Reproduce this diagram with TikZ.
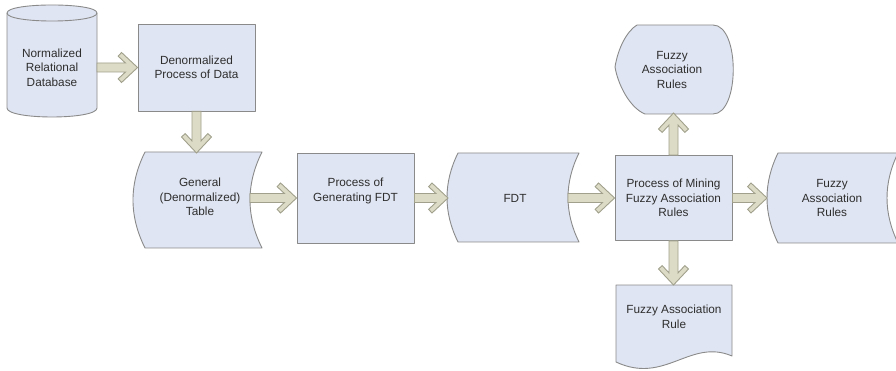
\documentclass[tikz,border=0pt]{standalone}
\usepackage{fontspec}
\setmainfont{Liberation Sans}
\usetikzlibrary{calc}
\definecolor{shapefill}{HTML}{DFE5F2}
\definecolor{shapeline}{HTML}{8A8A8A}
\definecolor{arrfill}{HTML}{DCDCC6}
\definecolor{arrline}{HTML}{A0A08C}
\definecolor{txt}{HTML}{2E2E2E}
\tikzset{
 shapesty/.style={fill=shapefill, draw=shapeline, line width=0.9pt, line join=round},
 txtsty/.style={font=\fontsize{11.8}{14.5}\selectfont, text=txt, align=center, inner sep=0pt},
 procbox/.style={shapesty, txtsty},
 arrowsty/.style={fill=arrfill, draw=arrline, line width=0.9pt, line join=miter},
}
\newcommand\blockarrow[2]{%
 \path (#1); \pgfgetlastxy{\bax}{\bay}%
 \path (#2); \pgfgetlastxy{\bbx}{\bby}%
 \pgfmathsetmacro\bang{atan2((\bby)-(\bay),(\bbx)-(\bax))}%
 \pgfmathsetmacro\blen{veclen((\bbx)-(\bax),(\bby)-(\bay))}%
 \begin{scope}[shift={(#2)}, rotate=\bang]
  \path[arrowsty] (-\blen pt,4.5pt) -- (-12.1pt,4.5pt) -- (-19.4pt,11.35pt) -- (-16pt,15pt) -- (0pt,0pt) -- (-16pt,-15pt) -- (-19.4pt,-11.35pt) -- (-12.1pt,-4.5pt) -- (-\blen pt,-4.5pt) -- cycle;
 \end{scope}}
\newcommand\storeddata[5]{%
 \path[shapesty] (#1,#3) -- (#2,#3)
   .. controls ({#2-4/3*#5},{#3+(#4-#3)/3}) and ({#2-4/3*#5},{#3+2*(#4-#3)/3}) .. (#2,#4)
   -- (#1,#4)
   .. controls ({#1-4/3*#5},{#3+2*(#4-#3)/3}) and ({#1-4/3*#5},{#3+(#4-#3)/3}) .. (#1,#3) -- cycle;}
\begin{document}
\begin{tikzpicture}[x=1pt,y=-1pt]
\useasboundingbox (0,0) rectangle (896,371);
\clip (0,0) rectangle (896,371);
% database cylinder
\path[shapesty] (7,13) -- (7,108) .. controls (7,120) and (97,120) .. (97,108) -- (97,13)
  .. controls (97,2.3) and (7,2.3) .. (7,13) -- cycle;
\draw[shapeline, line width=0.9pt] (7,13) .. controls (7,23.7) and (97,23.7) .. (97,13);
\node[txtsty] (db) at (52,67.5) {Normalized\\Relational\\Database};
\coordinate (db-e) at (97,67.5);
% denormalized process
\node[procbox, minimum width=117pt, minimum height=87pt] (den) at (196.5,67.5) {Denormalized\\Process of Data};
% general table
\storeddata{145}{262}{152}{248}{12}
\node[txtsty] (gt) at (200,197) {General\\(Denormalized)\\Table};
\coordinate (gt-n) at (196.5,153);
\coordinate (gt-e) at (250,198);
% generating FDT
\node[shapesty, minimum width=117pt, minimum height=90pt] (gen) at (355.5,198) {};
\node[txtsty] (gen-t) at (355.5,191) {Process of\\Generating FDT};
% FDT
\storeddata{458}{579}{153}{242}{11}
\node[txtsty] (fdt) at (515,198) {FDT};
\coordinate (fdt-w) at (448,198);
\coordinate (fdt-e) at (568,198);
% mining
\node[procbox, minimum width=117pt, minimum height=85pt] (mine) at (673.5,198) {Process of Mining\\Fuzzy Association\\Rules};
% display
\path[shapesty] (637,25) -- (713,25) .. controls (740,25) and (740,114) .. (713,114) -- (645,114)
  .. controls (630,108) and (618,85) .. (615,67) .. controls (618,48) and (627,31) .. (637,25) -- cycle;
\node[txtsty] (disp) at (672,70) {Fuzzy\\Association\\Rules};
\coordinate (disp-s) at (673.5,113);
% document
\path[shapesty] (616,285) -- (732,285) -- (732,356) .. controls (690,338) and (665,385) .. (616,362) -- cycle;
\node[txtsty] (doc) at (674,317) {Fuzzy Association\\Rule};
\coordinate (doc-n) at (673.5,285);
% right stored data
\storeddata{778}{898}{153}{243}{11}
\node[txtsty] (rt) at (832,198) {Fuzzy\\Association\\Rules};
\coordinate (rt-w) at (767,198);
% arrows
\blockarrow{db-e}{den.west}
\blockarrow{den.south}{gt-n}
\blockarrow{gt-e}{gen.west}
\blockarrow{gen.east}{fdt-w}
\blockarrow{fdt-e}{mine.west}
\blockarrow{mine.north}{disp-s}
\blockarrow{mine.south}{doc-n}
\blockarrow{mine.east}{rt-w}
\end{tikzpicture}
\end{document}
